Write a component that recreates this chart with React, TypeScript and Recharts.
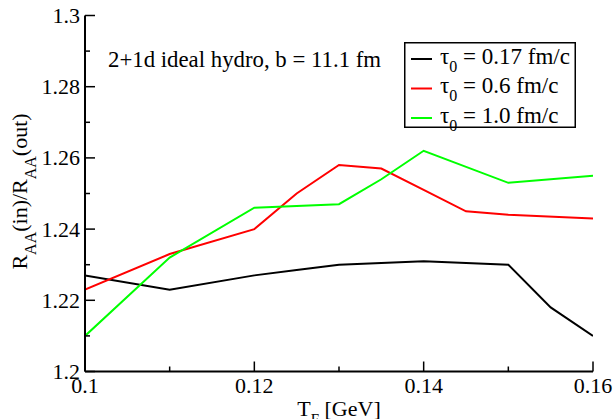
import { LineChart, Line, XAxis, YAxis, Legend, Customized } from "recharts";

// T_F [GeV] values per curve and R_AA(in)/R_AA(out)
const tau017X = [0.1, 0.11, 0.12, 0.125, 0.13, 0.14, 0.15, 0.155, 0.16];
const tau017Y = [1.227, 1.223, 1.227, 1.2285, 1.23, 1.231, 1.23, 1.218, 1.21];

const tau06X = [0.1, 0.11, 0.12, 0.125, 0.13, 0.135, 0.14, 0.145, 0.15, 0.16];
const tau06Y = [1.223, 1.233, 1.24, 1.25, 1.258, 1.257, 1.251, 1.245, 1.244, 1.243];

const tau10X = [0.1, 0.11, 0.12, 0.13, 0.135, 0.14, 0.15, 0.16];
const tau10Y = [1.21, 1.232, 1.246, 1.247, 1.254, 1.262, 1.253, 1.255];

const tauLabels = ["0.17", "0.6", "1.0"];
const colors = ["#000000", "#ff0000", "#00ff00"];

const xTicks = [0.1, 0.11, 0.12, 0.13, 0.14, 0.15, 0.16];
const xLabels = ["0.1", "", "0.12", "", "0.14", "", "0.16"];
const yTicks = [1.2, 1.21, 1.22, 1.23, 1.24, 1.25, 1.26, 1.27, 1.28, 1.29, 1.3];
const yLabels = ["1.2", "", "1.22", "", "1.24", "", "1.26", "", "1.28", "", "1.3"];

const toPoints = (xs: number[], ys: number[]) => xs.map((x, i) => ({ x, y: ys[i] }));
const series = [
  { name: "tau017", data: toPoints(tau017X, tau017Y) },
  { name: "tau06", data: toPoints(tau06X, tau06Y) },
  { name: "tau10", data: toPoints(tau10X, tau10Y) },
];

const FONT = '"Liberation Serif", "Times New Roman", Times, serif';
const txt = { fontFamily: FONT };

const idxOf = (arr: number[], v: number) =>
  arr.findIndex((t) => Math.abs(t - v) < 1e-6);

const makeXTick = (dir: number, withLabel: boolean) => (props: any) => {
  const { x, y, payload } = props;
  const i = idxOf(xTicks, payload.value);
  const major = xLabels[i] !== "";
  const len = major ? 10 : 5;
  return (
    <g>
      <line x1={x} x2={x} y1={y} y2={y + dir * len} stroke="#000" strokeWidth={1.5} />
      {withLabel && major && (
        <text x={x} y={y + 21} textAnchor="middle" fontSize={22} style={txt} fill="#000">
          {xLabels[i]}
        </text>
      )}
    </g>
  );
};

const makeYTick = (dir: number, withLabel: boolean) => (props: any) => {
  const { x, y, payload } = props;
  const i = idxOf(yTicks, payload.value);
  const major = yLabels[i] !== "";
  const len = major ? 10 : 5;
  return (
    <g>
      <line x1={x} x2={x + dir * len} y1={y} y2={y} stroke="#000" strokeWidth={1.5} />
      {withLabel && major && (
        <text x={x - 5} y={y + 7.5} textAnchor="end" fontSize={22} style={txt} fill="#000">
          {yLabels[i]}
        </text>
      )}
    </g>
  );
};

const YTitle = () => (
  <text
    transform="translate(27,191.5) rotate(-90)"
    textAnchor="middle"
    fontSize={22}
    style={txt}
    fill="#000"
  >
    R
    <tspan dy={9} fontSize={16}>AA</tspan>
    <tspan dy={-9}>(in)/R</tspan>
    <tspan dy={9} fontSize={16}>AA</tspan>
    <tspan dy={-9}>(out)</tspan>
  </text>
);

const XTitle = () => (
  <text x={339} y={416} textAnchor="middle" fontSize={22} style={txt} fill="#000">
    T
    <tspan dy={8} fontSize={15}>F</tspan>
    <tspan dy={-8}> [GeV]</tspan>
  </text>
);

const Note = () => (
  <text x={108} y={67} fontSize={22.8} style={txt} fill="#000">
    2+1d ideal hydro, b = 11.1 fm
  </text>
);

const LegendBox = () => (
  <svg width={172} height={86} style={{ display: "block", overflow: "visible" }}>
    <rect x={0.75} y={0.75} width={170.5} height={84.5} fill="#fff" stroke="#000" strokeWidth={1.5} />
    {tauLabels.map((t, i) => {
      const ly = 17 + i * 29.5;
      return (
        <g key={t}>
          <line x1={7} x2={28} y1={ly} y2={ly} stroke={colors[i]} strokeWidth={2} />
          <text x={36} y={ly + 4.5} fontSize={23} style={txt} fill="#000">
            τ
            <tspan dy={8} fontSize={16}>0</tspan>
            <tspan dy={-8}>{` = ${t} fm/c`}</tspan>
          </text>
        </g>
      );
    })}
  </svg>
);

export default function App() {
  return (
    <div style={{ position: "absolute", left: 0, top: 0, background: "#fff", fontFamily: FONT }}>
      <LineChart
        width={616}
        height={419}
        margin={{ top: 15.5, right: 23, bottom: 17.5, left: 0 }}
      >
        <XAxis
          xAxisId="bottom"
          dataKey="x"
          type="number"
          domain={[0.1, 0.16]}
          ticks={xTicks}
          interval={0}
          height={30}
          tickSize={0}
          tickMargin={0}
          tickLine={false}
          axisLine={{ stroke: "#000", strokeWidth: 2 }}
          tick={makeXTick(-1, true)}
          allowDataOverflow
          label={<XTitle />}
        />
        <XAxis
          xAxisId="top"
          orientation="top"
          dataKey="x"
          type="number"
          domain={[0.1, 0.16]}
          ticks={xTicks}
          interval={0}
          height={0}
          tickSize={0}
          tickMargin={0}
          tickLine={false}
          axisLine={{ stroke: "#000", strokeWidth: 2 }}
          tick={makeXTick(1, false)}
          allowDataOverflow
        />
        <YAxis
          yAxisId="left"
          type="number"
          domain={[1.2, 1.3]}
          ticks={yTicks}
          interval={0}
          width={85}
          tickSize={0}
          tickMargin={0}
          tickLine={false}
          axisLine={{ stroke: "#000", strokeWidth: 2 }}
          tick={makeYTick(1, true)}
          allowDataOverflow
          label={<YTitle />}
        />
        <YAxis
          yAxisId="right"
          orientation="right"
          type="number"
          domain={[1.2, 1.3]}
          ticks={yTicks}
          interval={0}
          width={0}
          tickSize={0}
          tickMargin={0}
          tickLine={false}
          axisLine={{ stroke: "#000", strokeWidth: 2 }}
          tick={makeYTick(-1, false)}
          allowDataOverflow
        />
        {series.map((s, i) => (
          <Line
            key={s.name}
            xAxisId="bottom"
            yAxisId="left"
            data={s.data}
            dataKey="y"
            name={`τ0 = ${tauLabels[i]} fm/c`}
            type="linear"
            stroke={colors[i]}
            strokeWidth={2}
            dot={false}
            activeDot={false}
            isAnimationActive={false}
          />
        ))}
        <Customized component={<Note />} />
        <Legend
          layout="horizontal"
          verticalAlign="middle"
          align="center"
          content={<LegendBox />}
          wrapperStyle={{ position: "absolute", left: 404, top: 42, width: 172, height: 86 }}
        />
      </LineChart>
    </div>
  );
}
